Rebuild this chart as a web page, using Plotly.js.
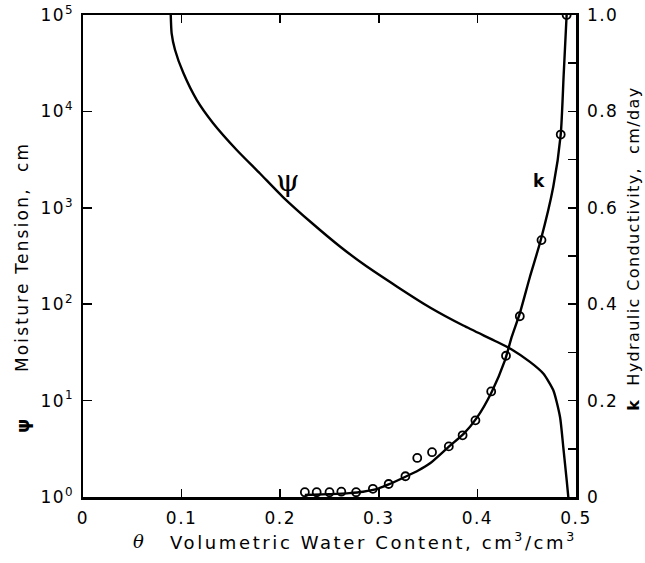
<!DOCTYPE html>
<html>
<head>
<meta charset="utf-8">
<script src="https://cdn.plot.ly/plotly-3.0.1.min.js"></script>
<style>
  html, body { margin: 0; padding: 0; background: #fff; }
  #chart { width: 645px; height: 563px; }
  #chart .xtick text, #chart .ytick text, #chart .y2tick text { letter-spacing: 1.5px; }
</style>
</head>
<body>
<div id="chart"></div>
<script>
// Moisture tension (psi) against volumetric water content (theta)
const psiTheta = [0.089, 0.0899, 0.0933, 0.1017, 0.1153, 0.1318, 0.1559, 0.1795, 0.2028, 0.2333,
                  0.2606, 0.2843, 0.3182, 0.3519, 0.3857, 0.4196, 0.4348, 0.4533, 0.4668, 0.477,
                  0.4838, 0.4871, 0.4906, 0.4922];
const psiValues = [100000, 64600, 43650, 25120, 13180, 7590, 3980, 2270, 1294, 679,
                   397, 261, 153, 92.5, 60.1, 40.8, 33.9, 25.2, 19.1, 12.8,
                   6.76, 3.30, 1.48, 1.0];

// Hydraulic conductivity: fitted curve
const kFitTheta = [0.225, 0.25, 0.27, 0.284, 0.30, 0.31, 0.327, 0.34, 0.352, 0.3705,
                   0.386, 0.399, 0.4145, 0.428, 0.4348, 0.443, 0.4533, 0.464, 0.477, 0.4845,
                   0.4875, 0.4905];
const kFitValues = [0.004, 0.006, 0.008, 0.011, 0.018, 0.026, 0.042, 0.055, 0.070, 0.1035,
                    0.131, 0.163, 0.218, 0.284, 0.332, 0.381, 0.457, 0.531, 0.644, 0.752,
                    0.876, 1.0];

// Hydraulic conductivity: measured points
const kObsTheta = [0.225, 0.237, 0.250, 0.262, 0.277, 0.294, 0.310, 0.327, 0.339, 0.354,
                   0.371, 0.385, 0.398, 0.414, 0.429, 0.443, 0.465, 0.4845, 0.4905];
const kObsValues = [0.010, 0.010, 0.010, 0.011, 0.010, 0.017, 0.027, 0.043, 0.081, 0.093,
                    0.105, 0.128, 0.159, 0.219, 0.293, 0.375, 0.533, 0.752, 1.0];

// Axis ticks
const xTickVals = [0, 0.1, 0.2, 0.3, 0.4, 0.5];
const xTickText = ['0', '0.1', '0.2', '0.3', '0.4', '0.5'];
const psiTickVals = [1, 10, 100, 1000, 10000, 100000];
const psiTickText = ['10<sup>0</sup>', '10<sup>1</sup>', '10<sup>2</sup>', '10<sup>3</sup>', '10<sup>4</sup>', '10<sup>5</sup>'];
const kTickVals = [0, 0.1, 0.2, 0.3, 0.4, 0.5, 0.6, 0.7, 0.8, 0.9, 1.0];
const kTickText = ['0', '', '0.2', '', '0.4', '', '0.6', '', '0.8', '', '1.0'];

const FONT = 'DejaVu Sans, Verdana, sans-serif';
const INK = '#000';

const traces = [
  {
    x: psiTheta, y: psiValues, yaxis: 'y', type: 'scatter', mode: 'lines',
    line: { color: INK, width: 2.4, shape: 'spline', smoothing: 0.6 },
    hoverinfo: 'skip', showlegend: false
  },
  {
    x: kFitTheta, y: kFitValues, yaxis: 'y2', type: 'scatter', mode: 'lines',
    line: { color: INK, width: 2.4, shape: 'spline', smoothing: 0.6 },
    hoverinfo: 'skip', showlegend: false
  },
  {
    x: kObsTheta, y: kObsValues, yaxis: 'y2', type: 'scatter', mode: 'markers',
    marker: { symbol: 'circle-open', size: 8, color: INK, line: { width: 1.8, color: INK } },
    hoverinfo: 'skip', showlegend: false
  }
];

// letter spacing (px) applied to each annotation after drawing
const titleSpacing = [0, 0, 0, 2.6, 0, 2.2, 1.4];

const layout = {
  width: 645, height: 563,
  margin: { l: 83, r: 69, t: 15, b: 66, pad: 0 },
  paper_bgcolor: '#fff', plot_bgcolor: '#fff',
  font: { family: FONT, color: INK, size: 16 },
  xaxis: {
    range: [0, 0.5], tickvals: xTickVals, ticktext: xTickText,
    ticks: 'inside', ticklen: 8, tickwidth: 1.5, tickcolor: INK,
    showline: true, linewidth: 2.5, linecolor: INK, mirror: 'ticks',
    showgrid: false, zeroline: false,
    tickfont: { family: FONT, size: 17, color: INK }, ticklabelstandoff: 4
  },
  yaxis: {
    type: 'log', range: [0, 5], tickvals: psiTickVals, ticktext: psiTickText,
    ticks: 'inside', ticklen: 9, tickwidth: 1.5, tickcolor: INK,
    showline: true, linewidth: 2.5, linecolor: INK,
    showgrid: false, zeroline: false,
    tickfont: { family: FONT, size: 17, color: INK }, ticklabelstandoff: 3
  },
  yaxis2: {
    overlaying: 'y', side: 'right', range: [0, 1],
    tickvals: kTickVals, ticktext: kTickText,
    ticks: 'inside', ticklen: 8, tickwidth: 1.5, tickcolor: INK,
    showline: true, linewidth: 2.5, linecolor: INK,
    showgrid: false, zeroline: false,
    tickfont: { family: FONT, size: 17, color: INK }, ticklabelstandoff: 5
  },
  annotations: [
    // curve labels
    { x: 0.2074, y: 3.28, xref: 'x', yref: 'y', text: 'ψ', showarrow: false,
      xanchor: 'center', yanchor: 'middle',
      font: { family: 'DejaVu Serif, serif', size: 30, color: INK } },
    { x: 0.4625, y: 0.656, xref: 'x', yref: 'y2', text: '<b>k</b>', showarrow: false,
      xanchor: 'center', yanchor: 'middle',
      font: { family: FONT, size: 17, color: INK } },
    // x-axis title
    { x: 138, y: 563 - 541, xref: 'paper', yref: 'paper', text: '<i>θ</i>', showarrow: false,
      xanchor: 'center', yanchor: 'middle',
      font: { family: 'DejaVu Serif, serif', size: 18, color: INK } },
    { x: 373, y: 563 - 541, xref: 'paper', yref: 'paper', xanchor: 'center', yanchor: 'middle',
      text: 'Volumetric Water Content, cm<sup>3</sup>/cm<sup>3</sup>', showarrow: false,
      font: { family: FONT, size: 18, color: INK } },
    // left axis title
    { x: 22, y: 563 - 426, xref: 'paper', yref: 'paper', text: '<b>ψ</b>', showarrow: false,
      xanchor: 'center', yanchor: 'middle',
      textangle: -90, font: { family: FONT, size: 18, color: INK } },
    { x: 22, y: 563 - 257, xref: 'paper', yref: 'paper', text: 'Moisture Tension,  cm',
      xanchor: 'center', yanchor: 'middle',
      showarrow: false, textangle: -90, font: { family: FONT, size: 17, color: INK } },
    // right axis title
    { x: 633, y: 563 - 249, xref: 'paper', yref: 'paper',
      xanchor: 'center', yanchor: 'middle',
      text: '<b>k</b>  Hydraulic Conductivity,  cm/day', showarrow: false, textangle: -90,
      font: { family: FONT, size: 16, color: INK } }
  ]
};

// Title annotations are positioned in pixels; convert to paper fractions
const plotW = layout.width - layout.margin.l - layout.margin.r;
const plotH = layout.height - layout.margin.t - layout.margin.b;
layout.annotations.forEach(a => {
  if (a.xref === 'paper') {
    a.x = (a.x - layout.margin.l) / plotW;
    a.y = (a.y - layout.margin.b) / plotH;
  }
});

Plotly.newPlot('chart', traces, layout, { displayModeBar: false, staticPlot: true }).then(gd => {
  gd.querySelectorAll('g.annotation').forEach(g => {
    const i = +g.getAttribute('data-index');
    const t = g.querySelector('text.annotation-text');
    if (t && titleSpacing[i]) t.style.letterSpacing = titleSpacing[i] + 'px';
  });
});
</script>
</body>
</html>
